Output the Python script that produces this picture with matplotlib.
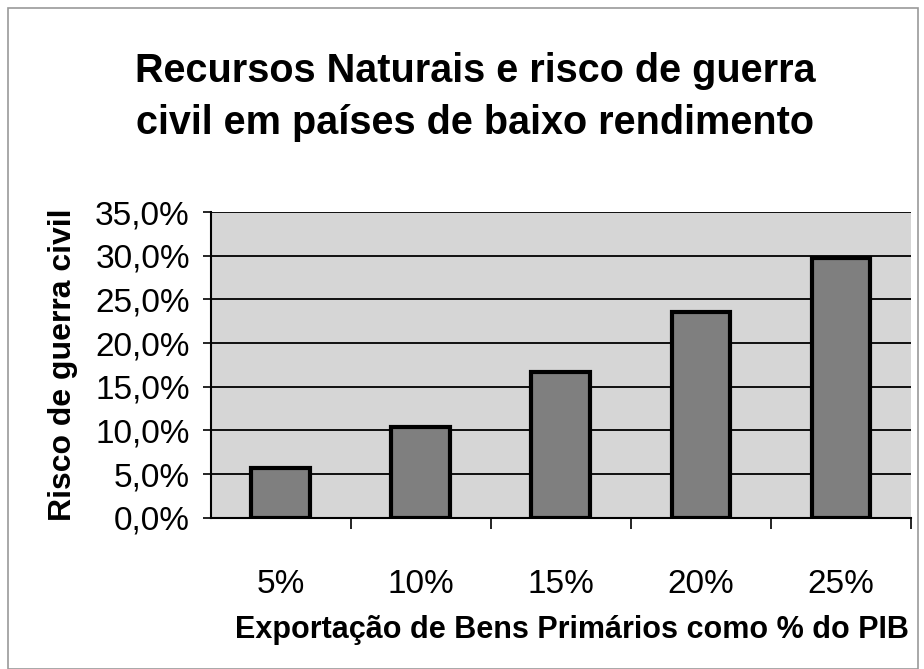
import matplotlib.pyplot as plt
from matplotlib.patches import Rectangle

plt.rcParams['font.family'] = ['Liberation Sans', 'DejaVu Sans']

categorias = ['5%', '10%', '15%', '20%', '25%']
risco = [5.7, 10.4, 16.7, 23.6, 29.7]
yticks = [0, 5, 10, 15, 20, 25, 30, 35]
ylabels = ['0,0%', '5,0%', '10,0%', '15,0%', '20,0%', '25,0%', '30,0%', '35,0%']

fig = plt.figure(figsize=(9.24, 6.69), dpi=100)
fig.patch.set_facecolor('white')
# moldura do grafico
fig.patches.append(Rectangle((0.009, 0.0), 0.985, 0.988, transform=fig.transFigure,
                             fill=False, edgecolor='#999999', lw=1.2))

ax = fig.add_axes([0.228, 0.226, 0.758, 0.457])
ax.set_facecolor('#d6d6d6')
x = range(len(categorias))
ax.bar(x, risco, width=0.42, color='#7f7f7f', edgecolor='black', linewidth=3, zorder=3)

ax.set_xlim(-0.5, 4.5)
ax.set_ylim(0, 35)
ax.set_yticks(yticks)
ax.set_yticklabels(ylabels, fontsize=24)
ax.yaxis.grid(True, color='black', lw=1.3, zorder=1)
ax.set_axisbelow(True)
ax.tick_params(axis='y', length=6, width=1.2, pad=9, direction='out')

ax.set_xticks(list(x))
ax.set_xticklabels(categorias, fontsize=24)
ax.tick_params(axis='x', which='major', length=0, pad=37)
ax.set_xticks([0.5, 1.5, 2.5, 3.5, 4.5], minor=True)
ax.tick_params(axis='x', which='minor', length=8, width=1.2, direction='out')

for s in ['top', 'right']:
    ax.spines[s].set_visible(False)
ax.spines['left'].set_linewidth(1.5)
ax.spines['bottom'].set_linewidth(1.5)

ax.set_xlabel('Exportação de Bens Primários como % do PIB', fontsize=22, fontweight='bold')
ax.xaxis.set_label_coords(0.516, -0.318)
ax.set_ylabel('Risco de guerra civil', fontsize=23, fontweight='bold')
ax.yaxis.set_label_coords(-0.19, 0.5)

fig.text(0.514, 0.855, 'Recursos Naturais e risco de guerra\ncivil em países de baixo rendimento',
         ha='center', va='center', fontsize=28.5, fontweight='bold', linespacing=1.45)

fig.savefig('out.png', dpi=100)
